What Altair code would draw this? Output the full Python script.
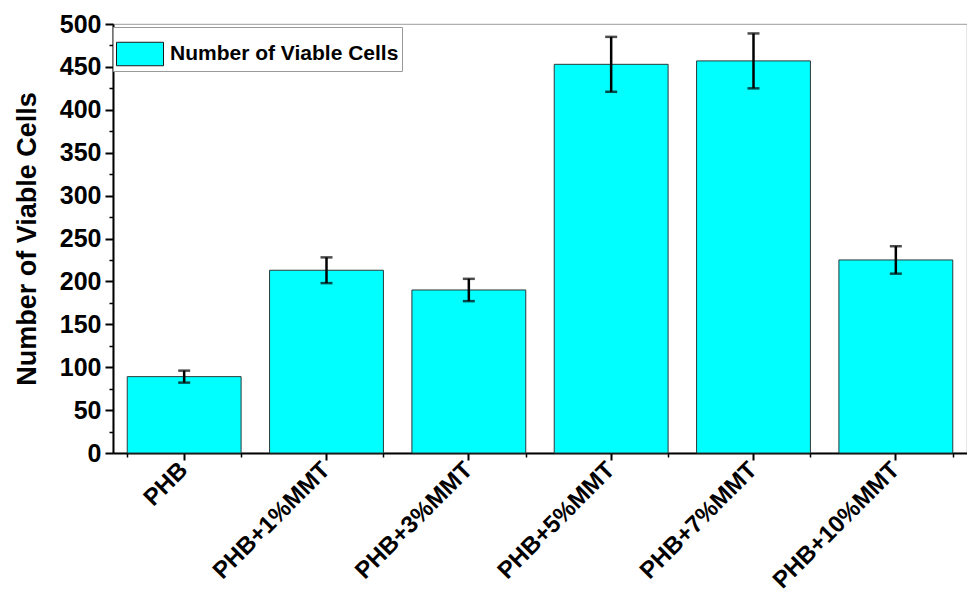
import altair as alt
import pandas as pd

categories = ["PHB", "PHB+1%MMT", "PHB+3%MMT", "PHB+5%MMT", "PHB+7%MMT", "PHB+10%MMT"]
values = [89, 213, 190, 453, 457, 225]
errors = [7, 15, 13, 32, 32, 16]
series_name = "Number of Viable Cells"
y_major = list(range(0, 501, 50))
y_minor = list(range(25, 500, 50))

df = pd.DataFrame({
    "cat": categories,
    "val": values,
    "lo": [v - e for v, e in zip(values, errors)],
    "hi": [v + e for v, e in zip(values, errors)],
    "series": [series_name] * len(categories),
})

FONT = "Liberation Sans"

xscale = alt.Scale(domain=categories, paddingInner=0.2, paddingOuter=0.1)
yscale = alt.Scale(domain=[0, 500], nice=False)

base = alt.Chart(df)

bars = base.mark_bar(stroke="#2b3a3a", strokeWidth=1).encode(
    x=alt.X("cat:N", scale=xscale, sort=categories, title=None,
            axis=alt.Axis(labelAngle=315, labelFontSize=24, labelFont=FONT,
                          labelFontWeight="bold", labelColor="black",
                          labelAlign="right", labelBaseline="middle",
                          labelPadding=6, labelLimit=400, orient="bottom",
                          tickSize=7, tickWidth=2, tickColor="black",
                          domainColor="black", domainWidth=2, grid=False)),
    y=alt.Y("val:Q", scale=yscale, title="Number of Viable Cells",
            axis=alt.Axis(values=y_major, labelFontSize=25, labelFont=FONT,
                          labelFontWeight="bold", labelColor="black", orient="left",
                          tickSize=8, tickWidth=2, tickColor="black",
                          domainColor="black", domainWidth=2, grid=False,
                          titleFontSize=27, titleFont=FONT, titleFontWeight="bold",
                          titleColor="black", titlePadding=18, labelPadding=4)),
    color=alt.Color("series:N", scale=alt.Scale(range=["#00FFFF"]), title=None,
                    legend=alt.Legend(orient="none", legendX=0, legendY=3,
                                      symbolType="M-1,-0.5H1V0.5H-1Z", symbolSize=2209,
                                      symbolStrokeColor="#1a1a1a", symbolStrokeWidth=1,
                                      symbolOpacity=1, labelLimit=400,
                                      labelFontSize=21, labelFont=FONT, labelFontWeight="bold",
                                      labelColor="black", labelOffset=6,
                                      strokeColor="#9a9a9a", padding=3,
                                      fillColor="white")),
)

rules = base.mark_rule(color="black", strokeWidth=2.5).encode(
    x=alt.X("cat:N", scale=xscale, sort=categories,
            axis=alt.Axis(tickBand="extent", labels=False, tickSize=4, tickWidth=1.5,
                          tickColor="black", domain=False, grid=False, title=None,
                          orient="bottom")),
    y=alt.Y("lo:Q", scale=yscale,
            axis=alt.Axis(values=y_minor, labels=False, tickSize=4, tickWidth=1.5,
                          tickColor="black", domain=False, grid=False, title=None,
                          orient="left")),
    y2="hi:Q",
)

caps_lo = base.mark_tick(color="black", thickness=2.5, size=12).encode(
    x=alt.X("cat:N", scale=xscale, sort=categories, axis=None),
    y=alt.Y("lo:Q", scale=yscale, axis=None),
)
caps_hi = base.mark_tick(color="black", thickness=2.5, size=12).encode(
    x=alt.X("cat:N", scale=xscale, sort=categories, axis=None),
    y=alt.Y("hi:Q", scale=yscale, axis=None),
)

chart = alt.layer(bars, rules, caps_lo, caps_hi).resolve_axis(
    x="independent", y="independent"
).properties(
    width=854, height=429,
    autosize=alt.AutoSizeParams(type="none"),
    padding={"left": 105, "top": 16, "right": 0, "bottom": 140},
    background="white",
).configure_view(stroke="#b0b0b0", strokeWidth=1.2)

chart.save("out.html", embed_options={"renderer": "svg", "actions": False})
